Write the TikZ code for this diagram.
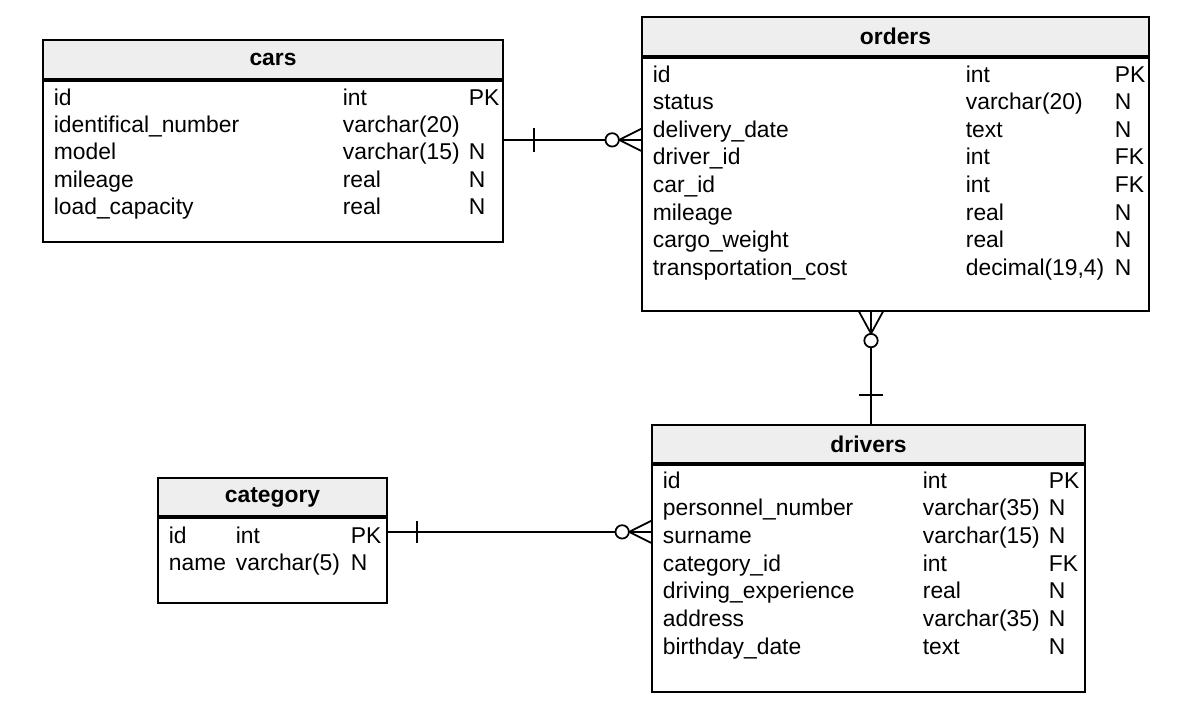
\documentclass[tikz,border=0pt]{standalone}
\usepackage{fontspec}
\setmainfont{Liberation Sans}
\usetikzlibrary{positioning}
\definecolor{headgray}{RGB}{238,238,238}

\begin{document}
\begin{tikzpicture}[x=0.02cm, y=-0.02cm, line width=1pt,
        every node/.style={font=\fontsize{13pt}{15.7pt}\selectfont},
        tablehead/.style={draw, fill=headgray, inner sep=0pt, font=\fontsize{13pt}{15.7pt}\selectfont\bfseries},
        tablebody/.style={draw, inner sep=0pt},
        field/.style={anchor=base west, inner sep=0pt}]
        \useasboundingbox (0,0) rectangle (1182,720);

        % Tables
        \node[tablehead, minimum width=9.2cm, minimum height=0.78cm] (cars) at (273,59.5) {cars};
        \node[tablebody, minimum width=9.2cm, minimum height=3.22cm, below=0pt of cars] (cars-body) {};
        \node[tablehead, minimum width=10.14cm, minimum height=0.78cm] (orders) at (895.5,36.5) {orders};
        \node[tablebody, minimum width=10.14cm, minimum height=5.06cm, below=0pt of orders] (orders-body) {};
        \node[tablehead, minimum width=8.66cm, minimum height=0.76cm] (drivers) at (868.5,444) {drivers};
        \node[tablebody, minimum width=8.66cm, minimum height=4.54cm, below=0pt of drivers] (drivers-body) {};
        \node[tablehead, minimum width=4.58cm, minimum height=0.76cm] (category) at (272.5,497) {category};
        \node[tablebody, minimum width=4.58cm, minimum height=1.7cm, below=0pt of category] (category-body) {};

        % Fields
        \foreach \n/\t/\f [count=\i from 0] in {id/int/PK, identifical\_number/varchar(20)/{}, model/varchar(15)/N, mileage/real/N, load\_capacity/real/N} {
                \node[field] (cars-n\i) at (53,{105+27.4*\i}) {\n};
                \node[field] (cars-t\i) at (342,{105+27.4*\i}) {\t};
                \node[field] (cars-f\i) at (468,{105+27.4*\i}) {\f};
        }
        \foreach \n/\t/\f [count=\i from 0] in {id/int/PK, status/varchar(20)/N, delivery\_date/text/N, driver\_id/int/FK, car\_id/int/FK, mileage/real/N, cargo\_weight/real/N, transportation\_cost/{decimal(19,4)}/N} {
                \node[field] (orders-n\i) at (652,{82+27.6*\i}) {\n};
                \node[field] (orders-t\i) at (965,{82+27.6*\i}) {\t};
                \node[field] (orders-f\i) at (1114,{82+27.6*\i}) {\f};
        }
        \foreach \n/\t/\f [count=\i from 0] in {id/int/PK, personnel\_number/varchar(35)/N, surname/varchar(15)/N, category\_id/int/FK, driving\_experience/real/N, address/varchar(35)/N, birthday\_date/text/N} {
                \node[field] (drivers-n\i) at (662,{488+27.7*\i}) {\n};
                \node[field] (drivers-t\i) at (922,{488+27.7*\i}) {\t};
                \node[field] (drivers-f\i) at (1048,{488+27.7*\i}) {\f};
        }
        \foreach \n/\t/\f [count=\i from 0] in {id/int/PK, name/varchar(5)/N} {
                \node[field] (category-n\i) at (168,{543+27.6*\i}) {\n};
                \node[field] (category-t\i) at (235,{543+27.6*\i}) {\t};
                \node[field] (category-f\i) at (350,{543+27.6*\i}) {\f};
        }

        % cars -- orders
        \path (cars-body.north east) ++(0,60) coordinate (co-a);
        \coordinate (co-b) at (orders-body.west |- co-a);
        \draw (co-a) -- (co-b);
        \draw (co-a) ++(30,-12) -- ++(0,24);
        \draw (co-b) ++(-22,0) -- ++(22,-11) (co-b) ++(-22,0) -- ++(22,11);
        \draw[fill=white] (co-b) ++(-29,0) circle[radius=0.134cm];

        % orders -- drivers
        \path (drivers.north) ++(2.5,0) coordinate (od-b);
        \coordinate (od-a) at (orders-body.south -| od-b);
        \draw (od-a) -- (od-b);
        \draw (od-b) ++(-12,-29) -- ++(24,0);
        \draw (od-a) ++(0,22) -- ++(-12,-22) (od-a) ++(0,22) -- ++(12,-22);
        \draw[fill=white] (od-a) ++(0,29) circle[radius=0.134cm];

        % category -- drivers
        \path (category-body.north east) ++(0,15) coordinate (cd-a);
        \coordinate (cd-b) at (drivers-body.west |- cd-a);
        \draw (cd-a) -- (cd-b);
        \draw (cd-a) ++(29,-11) -- ++(0,22);
        \draw (cd-b) ++(-22,0) -- ++(22,-11) (cd-b) ++(-22,0) -- ++(22,11);
        \draw[fill=white] (cd-b) ++(-29,0) circle[radius=0.134cm];
\end{tikzpicture}
\end{document}
